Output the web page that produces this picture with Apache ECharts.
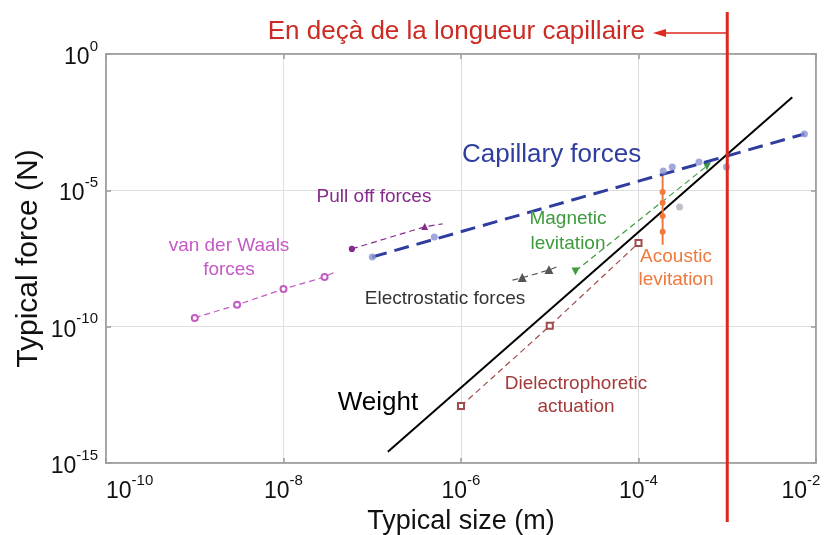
<!DOCTYPE html>
<html><head><meta charset="utf-8">
<script src="https://cdn.jsdelivr.net/npm/echarts@6/dist/echarts.min.js"></script>
<style>html,body{margin:0;padding:0;background:#fff}#c{width:828px;height:535px}</style>
</head><body><div id="c"></div>
<script>
// ---- data (log-log) ----
const weightX = [1.5e-7, 5.4e-3];
const weightY = [2.6e-15, 2.6e-2];

const capLineX = [1e-7, 7.4e-3];
const capLineY = [3.6e-8, 1.17e-3];
const capDotX = [1e-7, 5e-7, 1.9e-4, 2.4e-4, 4.8e-4, 9.8e-4, 7.4e-3];
const capDotY = [3.6e-8, 1.95e-7, 5.1e-5, 7.2e-5, 1.1e-4, 7.2e-5, 1.17e-3];

const vdwX = [1e-9, 3e-9, 1e-8, 2.9e-8, 4e-8];
const vdwY = [2.1e-10, 6.3e-10, 2.4e-9, 6.6e-9, 1.1e-8];
const vdwSym = ['emptyCircle', 'emptyCircle', 'emptyCircle', 'emptyCircle', 'none'];

const pullX = [5.9e-8, 3.9e-7, 6.2e-7];
const pullY = [7.1e-8, 4.6e-7, 5.9e-7];
const pullSym = ['circle', 'triangle', 'none'];

const elecX = [3.8e-6, 4.9e-6, 9.8e-6, 1.2e-5];
const elecY = [5.1e-9, 6.2e-9, 1.2e-8, 1.55e-8];
const elecSym = ['none', 'triangle', 'triangle', 'none'];

const magX = [1.95e-5, 5.9e-4];
const magY = [1.1e-8, 7.8e-5];

const dielX = [1e-6, 1e-5, 1e-4];
const dielY = [1.23e-13, 1.07e-10, 1.17e-7];

const acoX = [1.87e-4, 1.87e-4, 1.87e-4, 1.87e-4, 1.87e-4, 1.87e-4];
const acoY = [4.4e-5, 8.7e-6, 3.5e-6, 1.15e-6, 3e-7, 1e-7];
const acoSym = ['none', 'circle', 'circle', 'circle', 'circle', 'none'];

const greyX = [2.9e-4];
const greyY = [2.45e-6];

const capillaryLength = 1e-3;

const xMin = 1e-10, xMax = 1e-2, yMin = 1e-15, yMax = 1;

// ---- helpers ----
function pts(xs, ys, syms, rot) {
  return xs.map((x, i) => {
    const d = { value: [x, ys[i]] };
    if (syms) d.symbol = syms[i];
    if (rot) d.symbolRotate = rot;
    return d;
  });
}
const SANS = '"Liberation Sans", Arial, sans-serif';

function supLabel(v) {
  return '{b|10}{s|' + Math.round(Math.log10(v)) + '}';
}
function xSupLabel(v) {
  const s = supLabel(v);
  return Math.abs(Math.log10(v) - Math.log10(xMax)) < 1e-6 ? s + '{p|}' : s;
}
const labelRich = {
  b: { fontSize: 23, fontFamily: SANS, color: '#111', verticalAlign: 'bottom', lineHeight: 30 },
  s: { fontSize: 15, fontFamily: SANS, color: '#111', verticalAlign: 'top', lineHeight: 30 },
  p: { width: 30, lineHeight: 30 }
};
const axisLineStyle = { color: '#9c9c9c', width: 1.5 };
const gridLineStyle = { type: 'solid', color: '#dedede', width: 1 };

function dashed(name, data, color, size, extra) {
  return Object.assign({
    name, type: 'line', data, symbolSize: size || 6, showSymbol: true, showAllSymbol: true,
    lineStyle: { color, width: 1.2, type: [6, 4] },
    itemStyle: { color, borderColor: color, borderWidth: 1.2 },
    emphasis: { disabled: true }, silent: true, z: 3
  }, extra || {});
}

const chart = echarts.init(document.getElementById('c'), null, { renderer: 'canvas' });
chart.setOption({
  animation: false,
  backgroundColor: '#fff',
  grid: { left: 106, right: 12, top: 54, bottom: 72, show: true, borderColor: '#9c9c9c', borderWidth: 1.5,
    containLabel: false, outerBoundsMode: 'none' },
  xAxis: [{
    type: 'log', logBase: 10, min: xMin, max: xMax, interval: 2, position: 'bottom',
    axisLine: { show: true, onZero: false, lineStyle: axisLineStyle },
    axisTick: { show: true, inside: true, length: 5, lineStyle: axisLineStyle },
    minorTick: { show: false },
    splitLine: { show: true, lineStyle: gridLineStyle },
    axisLabel: { formatter: xSupLabel, rich: labelRich, margin: 10, alignMinLabel: 'left', hideOverlap: false },
    name: 'Typical size (m)', nameLocation: 'middle', nameGap: 44,
    nameTextStyle: { fontSize: 27, fontFamily: SANS, color: '#111' }
  }, {
    type: 'log', logBase: 10, min: xMin, max: xMax, interval: 2, position: 'top',
    axisLine: { show: true, onZero: false, lineStyle: axisLineStyle },
    axisTick: { show: true, inside: true, length: 5, lineStyle: axisLineStyle },
    splitLine: { show: false }, axisLabel: { show: false }
  }],
  yAxis: [{
    type: 'log', logBase: 10, min: yMin, max: yMax, interval: 5, position: 'left',
    axisLine: { show: true, onZero: false, lineStyle: axisLineStyle },
    axisTick: { show: true, inside: true, length: 5, lineStyle: axisLineStyle },
    splitLine: { show: true, lineStyle: gridLineStyle },
    axisLabel: { formatter: supLabel, rich: labelRich, margin: 8 },
    name: 'Typical force (N)', nameLocation: 'middle', nameGap: 62, nameRotate: 90, nameMoveOverlap: false,
    nameTextStyle: { fontSize: 30, fontFamily: SANS, color: '#111' }
  }, {
    type: 'log', logBase: 10, min: yMin, max: yMax, interval: 5, position: 'right',
    axisLine: { show: true, onZero: false, lineStyle: axisLineStyle },
    axisTick: { show: true, inside: true, length: 5, lineStyle: axisLineStyle },
    splitLine: { show: false }, axisLabel: { show: false }
  }],
  series: [
    { name: 'Weight', type: 'line', data: pts(weightX, weightY), symbol: 'none',
      lineStyle: { color: '#000', width: 2 }, emphasis: { disabled: true }, silent: true, z: 4 },
    { name: 'Capillary', type: 'line', data: pts(capLineX, capLineY), symbol: 'none',
      lineStyle: { color: '#2f3d9f', width: 3, type: [15, 8] }, emphasis: { disabled: true }, silent: true, z: 5 },
    { name: 'CapillaryDots', type: 'scatter', data: pts(capDotX, capDotY), symbol: 'circle', symbolSize: 7,
      itemStyle: { color: '#8a92d6' }, emphasis: { disabled: true }, silent: true, z: 6 },
    dashed('vdW', pts(vdwX, vdwY, vdwSym), '#c45ac4', 6),
    dashed('Pull', pts(pullX, pullY, pullSym), '#862b8c', 5),
    dashed('Elec', pts(elecX, elecY, elecSym), '#555555', 7),
    dashed('Mag', pts(magX, magY, null, 180), '#3d9b3d', 6, { symbol: 'triangle' }),
    dashed('Diel', pts(dielX, dielY), '#a34a4a', 6, { symbol: 'emptyRect' }),
    { name: 'Acoustic', type: 'line', data: pts(acoX, acoY, acoSym), symbolSize: 6, showAllSymbol: true,
      lineStyle: { color: '#ee7a3e', width: 2 }, itemStyle: { color: '#ee7a3e' },
      emphasis: { disabled: true }, silent: true, z: 4 },
    { name: 'Grey', type: 'scatter', data: pts(greyX, greyY), symbol: 'circle', symbolSize: 7,
      itemStyle: { color: '#b0b0bc' }, emphasis: { disabled: true }, silent: true, z: 3 }
  ]
});

// annotations
const xr = chart.convertToPixel({ xAxisIndex: 0 }, capillaryLength);
const red = '#dd2a1e';
function txt(x, y, text, size, color, align, lh) {
  return { type: 'text', x, y, z: 20, silent: true,
    style: { text, fontSize: size, fill: color, fontFamily: SANS,
      align: align || 'center', verticalAlign: 'middle', lineHeight: lh || Math.round(size * 1.2) } };
}
chart.setOption({
  graphic: [
    { type: 'line', z: 30, silent: true, shape: { x1: xr, y1: 12, x2: xr, y2: 522 },
      style: { stroke: red, lineWidth: 3 } },
    { type: 'line', z: 30, silent: true, shape: { x1: xr, y1: 33, x2: 662, y2: 33 },
      style: { stroke: red, lineWidth: 1.5 } },
    { type: 'polygon', z: 30, silent: true, shape: { points: [[653, 33], [666, 29], [666, 37]] },
      style: { fill: red } },
    txt(645, 32, 'En deçà de la longueur capillaire', 26, '#cc2a22', 'right'),
    txt(462, 155, 'Capillary forces', 26, '#2f3d9f', 'left'),
    txt(374, 197, 'Pull off forces', 19, '#862b8c'),
    txt(229, 258, 'van der Waals\nforces', 19, '#c45ac4', 'center', 24),
    txt(568, 231, 'Magnetic\nlevitation', 19, '#3d9b3d', 'center', 25),
    txt(676, 268, 'Acoustic\nlevitation', 19, '#ee7a3e', 'center', 23),
    txt(445, 299, 'Electrostatic forces', 19, '#333333'),
    txt(378, 403, 'Weight', 26, '#000000'),
    txt(576, 395, 'Dielectrophoretic\nactuation', 19, '#a33a3a', 'center', 23)
  ]
});
</script></body></html>
